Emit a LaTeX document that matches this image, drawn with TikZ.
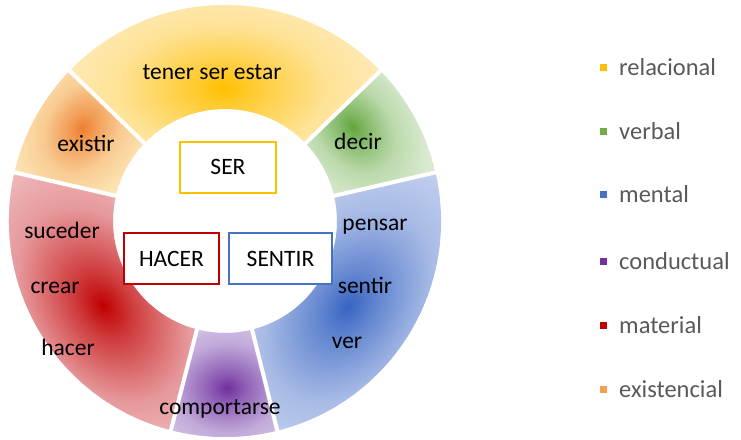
\documentclass[tikz,border=0pt]{standalone}
\usepackage{fontspec}
\setmainfont{Carlito}
\definecolor{yc}{HTML}{FFC000}\definecolor{yp}{HTML}{FEEDC6}
\definecolor{oc}{HTML}{EE7F30}\definecolor{op}{HTML}{FCE5B4}
\definecolor{gc}{HTML}{62A63E}\definecolor{gp}{HTML}{D9EAD0}
\definecolor{bc}{HTML}{3764C2}\definecolor{bp}{HTML}{CFD9F2}
\definecolor{pc}{HTML}{7030A0}\definecolor{pp}{HTML}{DCD2EC}
\definecolor{rc}{HTML}{C00000}\definecolor{rp}{HTML}{F3CBCF}
\definecolor{legtext}{HTML}{595959}
\definecolor{boxy}{HTML}{FFC000}\definecolor{boxr}{HTML}{C00000}\definecolor{boxb}{HTML}{4472C4}
\definecolor{sqy}{HTML}{FFC000}\definecolor{sqg}{HTML}{70AD47}\definecolor{sqb}{HTML}{4472C4}
\definecolor{sqp}{HTML}{7030A0}\definecolor{sqr}{HTML}{C00000}\definecolor{sqo}{HTML}{F4A050}
\newcommand\mkglow[3]{\pgfdeclareradialshading{#1}{\pgfpointorigin}{color(0bp)=(#2); color(5bp)=(#2!70!#3); color(14bp)=(#2!25!#3); color(25bp)=(#3); color(50bp)=(#3)}}
\mkglow{glowy}{yc}{yp}
\mkglow{glowo}{oc}{op}
\mkglow{glowg}{gc}{gp}
\mkglow{glowb}{bc}{bp}
\mkglow{glowp}{pc}{pp}
\mkglow{glowr}{rc}{rp}
\newcommand\Ro{216}
\newcommand\Ri{112}
\newcommand\segpath[2]{([shift={(C)}]#1:\Ro) arc[start angle=#1,end angle=#2,radius=\Ro] -- ([shift={(C)}]#2:\Ri) arc[start angle=#2,end angle=#1,radius=\Ri] -- cycle}
\newcommand\segment[8]{% a1 a2 pale shading centre xr yr rot
  \begin{scope}
    \clip \segpath{#1}{#2};
    \fill[#3] \segpath{#1}{#2};
    \begin{scope}[transform canvas={rotate around={#8:(#5)}}]
      \shade[shading=#4] (#5) ellipse [x radius=#6, y radius=#7];
    \end{scope}
  \end{scope}}
\begin{document}
\begin{tikzpicture}[x=1pt,y=1pt,
  lbl/.style={font=\fontsize{23.5}{28}\selectfont, text=black, inner sep=0pt},
  catbox/.style={draw, line width=2pt, fill=white, minimum width=94pt, minimum height=51pt, inner sep=0pt, font=\fontsize{23.5}{28}\selectfont},
  legsq/.style={minimum size=7pt, inner sep=0pt},
  legtxt/.style={anchor=west, inner sep=0pt, text=legtext, font=\fontsize{24.5}{29}\selectfont},
  gap/.style={white, line width=4pt}]
\useasboundingbox (0,0) rectangle (741,-439);
\coordinate (C) at (225,-221);
% segments
\segment{136}{167}{op}{glowo}{82,-128}{85}{65}{60}
\segment{44}{136}{yp}{glowy}{223,-88}{185}{110}{0}
\segment{13}{44}{gp}{glowg}{353,-127}{90}{65}{126}
\segment{-76}{13}{bp}{glowb}{348,-306}{190}{130}{55}
\segment{-104.5}{-76}{pp}{glowp}{227,-388}{95}{80}{0}
\segment{167}{255.5}{rp}{glowr}{103,-305}{190}{130}{124.5}
% gaps
\foreach \a in {13,44,136,167,-76,-104.5}
  \draw[gap] ([shift={(C)}]\a:\Ri-3) -- ([shift={(C)}]\a:\Ro+3);
% labels
\node[lbl] (tener) at (212,-72) {tener ser estar};
\node[lbl] (existir) at (86,-143) {existir};
\node[lbl] (decir) at (358,-141) {decir};
\node[lbl] (pensar) at (375,-227) {pensar};
\node[lbl] (sentirv) at (365,-285) {sentir};
\node[lbl] (ver) at (347,-343) {ver};
\node[lbl] (suceder) at (62,-230) {suceder};
\node[lbl] (crear) at (55,-288) {crear};
\node[lbl] (hacerv) at (68,-347) {hacer};
\node[lbl] (comp) at (220,-409) {comportarse};
% boxes
\node[catbox, draw=boxy, minimum width=96pt] (ser) at (228,-167) {SER};
\node[catbox, draw=boxr, minimum width=95pt] (hacer) at (171.5,-258.5) {HACER};
\node[catbox, draw=boxb, minimum width=103pt] (sentir) at (280.5,-258.5) {SENTIR};
% legend
\foreach \n/\c/\t/\y in {l1/sqy/relacional/67, l2/sqg/verbal/131, l3/sqb/mental/194, l4/sqp/conductual/261, l5/sqr/material/325, l6/sqo/existencial/389}{
  \node[legsq, fill=\c] (\n sq) at (603,-\y) {};
  \node[legtxt] (\n) at (619,-\y) {\t};
}
\end{tikzpicture}
\end{document}
